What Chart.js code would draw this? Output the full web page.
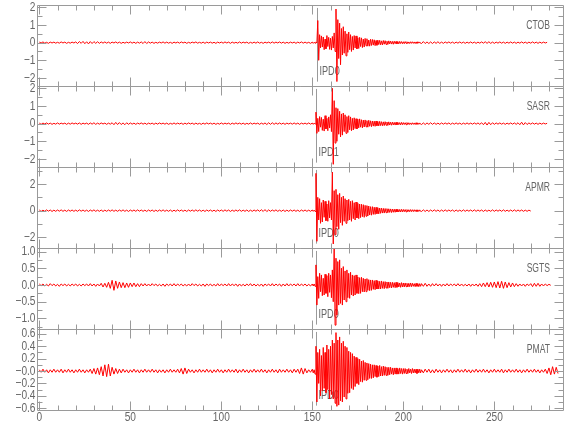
<!DOCTYPE html>
<html>
<head>
<meta charset="utf-8">
<script src="https://cdn.jsdelivr.net/npm/chart.js@4/dist/chart.umd.min.js"></script>
<style>
  html, body { margin: 0; padding: 0; background: #fff; }
  #wrap { position: relative; width: 580px; height: 440px; }
  #wrap canvas { position: absolute; left: 0; top: 0; }
</style>
</head>
<body>
<div id="wrap"></div>
<script>
// 관측소 / 위상 픽
const stations  = ['CTOB', 'SASR', 'APMR', 'SGTS', 'PMAT'];
const pickNames = ['IPD0', 'IPD1', 'IPD0', 'IPD0', 'IPD0'];
const pickTimes = [152.7, 151.8, 152.1, 152.1, 152.1];

// 샘플 시각: 0~149초 1초 간격, 150~209.5초 0.5초 간격, 210초부터 다시 1초 간격
const sampleTimes = [];
for (let t = 0; t < 150; t++) sampleTimes.push(t);
for (let t = 150; t < 210; t += 0.5) sampleTimes.push(t);
for (let t = 210; t <= 290; t++) sampleTimes.push(t);

// 파형 값 (sampleTimes 순서)
const ctob = [
  // 0-149
  0.03,-0.02,0.04,-0.03,0.02,-0.04,0.03,-0.02,0.03,-0.03,0.02,-0.03,0.04,-0.02,0.03,-0.04,0.02,-0.03,0.03,-0.02,
  0.04,-0.05,0.06,-0.04,0.07,-0.06,0.05,-0.07,0.06,-0.05,0.06,-0.04,0.05,-0.04,0.04,-0.03,0.04,-0.03,0.03,-0.04,
  0.03,-0.02,0.04,-0.03,0.03,-0.04,0.02,-0.03,0.03,-0.02,0.04,-0.03,0.03,-0.04,0.03,-0.03,0.04,-0.05,0.06,-0.05,
  0.04,-0.03,0.03,-0.04,0.02,-0.03,0.03,-0.02,0.04,-0.03,0.03,-0.03,0.02,-0.04,0.03,-0.02,0.03,-0.03,0.04,-0.02,
  0.03,-0.04,0.02,-0.03,0.03,-0.02,0.04,-0.03,0.02,-0.03,0.03,-0.04,0.03,-0.02,0.03,-0.03,0.02,-0.04,0.03,-0.02,
  0.03,-0.03,0.04,-0.02,0.03,-0.04,0.03,-0.03,0.02,-0.03,0.04,-0.03,0.03,-0.02,0.03,-0.04,0.02,-0.03,0.03,-0.03,
  0.04,-0.03,0.02,-0.04,0.03,-0.02,0.03,-0.03,0.04,-0.03,0.03,-0.02,0.04,-0.03,0.03,-0.04,0.02,-0.03,0.03,-0.02,
  0.03,-0.04,0.03,-0.02,0.04,-0.03,0.03,-0.03,0.02,-0.04,
  // 150-209.5
  0.03,-0.04,0.02,-0.03,0.04,-0.02,1.25,-1.0,0.45,-0.3,0.38,-0.25,0.32,-0.4,0.2,-0.35,0.4,-0.22,0.3,-0.38,
  0.25,-0.42,0.35,-0.3,0.55,-0.5,1.9,-2.2,1.3,-0.9,1.1,-1.25,0.8,-0.7,0.9,-0.6,0.65,-0.75,0.5,-0.55,
  0.6,-0.4,0.45,-0.5,0.35,-0.42,0.4,-0.3,0.38,-0.35,0.28,-0.33,0.3,-0.22,0.27,-0.28,0.2,-0.25,0.24,-0.18,
  0.22,-0.2,0.15,-0.2,0.19,-0.16,0.18,-0.14,0.16,-0.17,0.12,-0.15,0.14,-0.11,0.13,-0.12,0.1,-0.13,0.12,-0.09,
  0.11,-0.1,0.08,-0.1,0.1,-0.07,0.09,-0.08,0.07,-0.09,0.08,-0.06,0.07,-0.07,0.06,-0.07,0.07,-0.05,0.06,-0.06,
  0.05,-0.06,0.06,-0.04,0.05,-0.05,0.04,-0.05,0.05,-0.04,0.05,-0.04,0.04,-0.05,0.04,-0.04,0.05,-0.03,0.04,-0.04,
  // 210-279
  -0.05,0.06,-0.05,0.04,-0.05,0.04,-0.05,0.04,-0.04,0.05,
  -0.04,0.03,-0.04,0.04,-0.03,0.04,-0.03,0.03,-0.04,0.03,-0.03,0.04,-0.03,0.03,-0.04,0.03,-0.03,0.04,-0.03,0.03,
  -0.04,0.03,-0.03,0.04,-0.03,0.05,-0.04,0.05,-0.04,0.03,-0.04,0.03,-0.03,0.04,-0.03,0.03,-0.04,0.03,-0.03,0.04,
  -0.03,0.03,-0.04,0.03,-0.03,0.04,-0.03,0.03,-0.04,0.03,-0.03,0.04,-0.03,0.03,-0.04,0.03,-0.03,0.03,-0.02,0.02
];
const sasr = [
  // 0-149
  0.03,-0.04,0.03,-0.02,0.04,-0.03,0.03,-0.04,0.02,-0.03,0.04,-0.03,0.03,-0.02,0.03,-0.04,0.03,-0.03,0.04,-0.02,
  0.03,-0.03,0.04,-0.04,0.03,-0.02,0.03,-0.04,0.04,-0.03,0.05,-0.04,0.03,-0.03,0.04,-0.02,0.03,-0.04,0.03,-0.03,
  0.05,-0.06,0.07,-0.05,0.06,-0.05,0.04,-0.06,0.05,-0.04,0.04,-0.03,0.03,-0.04,0.03,-0.02,0.04,-0.03,0.03,-0.04,
  0.03,-0.02,0.03,-0.04,0.03,-0.03,0.04,-0.02,0.03,-0.03,0.03,-0.04,0.02,-0.03,0.04,-0.03,0.03,-0.02,0.03,-0.04,
  0.03,-0.03,0.04,-0.02,0.03,-0.04,0.03,-0.03,0.02,-0.04,0.03,-0.03,0.04,-0.02,0.03,-0.03,0.03,-0.04,0.02,-0.03,
  0.04,-0.03,0.03,-0.02,0.03,-0.04,0.03,-0.03,0.04,-0.02,0.03,-0.03,0.03,-0.04,0.02,-0.03,0.04,-0.03,0.03,-0.02,
  0.03,-0.04,0.03,-0.03,0.04,-0.05,0.05,-0.04,0.05,-0.04,0.04,-0.03,0.04,-0.03,0.03,-0.04,0.03,-0.02,0.03,-0.03,
  0.04,-0.03,0.03,-0.04,0.03,-0.02,0.03,-0.03,0.04,-0.03,
  // 150-209.5
  0.03,-0.04,0.03,-0.02,0.65,-0.55,0.3,-0.45,0.4,-0.2,0.35,-0.38,0.25,-0.42,0.45,-0.3,0.3,-0.4,0.38,-0.25,
  0.5,-0.45,2.0,-2.3,1.3,-1.1,0.9,-1.0,0.85,-0.6,0.7,-0.75,0.55,-0.65,0.6,-0.45,0.5,-0.55,0.4,-0.5,
  0.45,-0.35,0.38,-0.4,0.3,-0.36,0.33,-0.28,0.28,-0.3,0.25,-0.24,0.27,-0.2,0.22,-0.24,0.2,-0.19,0.21,-0.18,
  0.17,-0.2,0.19,-0.15,0.16,-0.17,0.15,-0.14,0.14,-0.15,0.15,-0.12,0.12,-0.13,0.13,-0.11,0.11,-0.12,0.1,-0.11,
  0.11,-0.09,0.09,-0.1,0.1,-0.08,0.08,-0.09,0.09,-0.07,0.07,-0.08,0.08,-0.07,0.07,-0.06,0.06,-0.07,0.07,-0.06,
  0.06,-0.05,0.05,-0.06,0.06,-0.05,0.05,-0.05,0.04,-0.05,0.05,-0.04,0.04,-0.05,0.05,-0.04,0.04,-0.04,0.04,-0.03,
  // 210-279
  -0.05,0.04,-0.05,0.04,-0.04,0.05,-0.04,0.04,-0.04,0.03,
  -0.04,0.04,-0.03,0.04,-0.03,0.04,-0.04,0.03,-0.03,0.04,-0.03,0.03,-0.04,0.03,-0.03,0.04,-0.03,0.03,-0.03,0.04,
  -0.03,0.04,-0.04,0.05,-0.06,0.07,-0.08,0.07,-0.06,0.05,-0.04,0.04,-0.03,0.04,-0.03,0.03,-0.04,0.03,-0.03,0.04,
  -0.03,0.04,-0.04,0.05,-0.06,0.08,-0.07,0.06,-0.05,0.04,-0.03,0.04,-0.03,0.03,-0.04,0.03,-0.03,0.03,-0.02,0.02
];
const apmr = [
  // 0-149
  0.05,-0.06,0.04,-0.05,0.06,-0.04,0.05,-0.06,0.04,-0.05,0.05,-0.04,0.06,-0.05,0.04,-0.06,0.05,-0.04,0.05,-0.05,
  0.04,-0.05,0.06,-0.04,0.05,-0.05,0.04,-0.06,0.05,-0.04,0.06,-0.05,0.04,-0.05,0.05,-0.06,0.04,-0.05,0.05,-0.04,
  0.06,-0.05,0.04,-0.05,0.05,-0.04,0.06,-0.05,0.04,-0.06,0.05,-0.04,0.05,-0.05,0.06,-0.04,0.05,-0.05,0.04,-0.06,
  0.05,-0.04,0.05,-0.06,0.04,-0.05,0.05,-0.04,0.06,-0.05,0.04,-0.05,0.05,-0.06,0.04,-0.05,0.06,-0.04,0.05,-0.05,
  0.04,-0.06,0.05,-0.04,0.05,-0.05,0.06,-0.04,0.05,-0.05,0.04,-0.06,0.05,-0.04,0.05,-0.05,0.04,-0.06,0.05,-0.04,
  0.05,-0.05,0.06,-0.04,0.05,-0.06,0.04,-0.05,0.05,-0.04,0.06,-0.05,0.04,-0.05,0.05,-0.06,0.04,-0.05,0.05,-0.04,
  0.06,-0.05,0.07,-0.06,0.08,-0.07,0.06,-0.05,0.05,-0.04,0.06,-0.05,0.04,-0.05,0.05,-0.06,0.04,-0.05,0.05,-0.04,
  0.05,-0.05,0.04,-0.06,0.05,-0.04,0.05,-0.05,0.04,-0.05,
  // 150-209.5
  0.05,-0.05,0.04,-0.06,2.8,-2.3,1.0,-0.7,0.9,-0.95,0.6,-0.85,0.8,-0.5,0.7,-0.75,0.5,-0.8,0.75,-0.55,
  0.6,-0.7,2.9,-2.5,1.5,-1.8,1.6,-1.2,1.2,-1.4,1.3,-0.9,1.0,-1.1,1.1,-0.8,0.9,-0.95,0.8,-0.75,
  0.85,-0.7,0.7,-0.8,0.75,-0.6,0.6,-0.7,0.65,-0.55,0.55,-0.6,0.5,-0.52,0.48,-0.45,0.45,-0.5,0.4,-0.42,
  0.38,-0.4,0.35,-0.33,0.3,-0.34,0.3,-0.28,0.26,-0.28,0.25,-0.23,0.22,-0.24,0.2,-0.2,0.19,-0.18,0.17,-0.18,
  0.16,-0.15,0.15,-0.15,0.14,-0.13,0.13,-0.14,0.12,-0.12,0.11,-0.12,0.11,-0.1,0.1,-0.1,0.09,-0.1,0.1,-0.09,
  0.09,-0.08,0.08,-0.09,0.08,-0.08,0.07,-0.08,0.08,-0.07,0.07,-0.07,0.07,-0.06,0.06,-0.07,0.06,-0.06,0.06,-0.05,
  // 210-270
  -0.06,0.06,-0.06,0.05,-0.06,0.05,-0.05,0.06,-0.05,0.05,
  -0.06,0.05,-0.05,0.06,-0.05,0.05,-0.04,0.05,-0.06,0.05,-0.05,0.04,-0.05,0.06,-0.05,0.05,-0.04,0.05,-0.05,0.06,
  -0.05,0.05,-0.04,0.05,-0.06,0.05,-0.05,0.04,-0.05,0.06,-0.05,0.05,-0.04,0.05,-0.05,0.06,-0.05,0.04,-0.05,0.05,
  -0.05,0.06,-0.05,0.05,-0.04,0.05,-0.05,0.04,-0.05,0.04,-0.03
];
const sgts = [
  // 0-149
  0.03,-0.02,0.03,-0.03,0.02,-0.03,0.04,-0.02,0.03,-0.03,0.02,-0.04,0.03,-0.02,0.03,-0.03,0.02,-0.03,0.03,-0.02,
  0.03,-0.03,0.02,-0.03,0.03,-0.02,0.03,-0.03,0.04,-0.03,0.03,-0.04,0.03,-0.03,0.05,-0.06,0.05,-0.07,0.08,-0.1,
  0.14,-0.16,0.12,-0.1,0.09,-0.08,0.07,-0.08,0.06,-0.07,0.06,-0.05,0.06,-0.05,0.04,-0.05,0.04,-0.03,0.04,-0.03,
  0.03,-0.03,0.04,-0.02,0.03,-0.03,0.02,-0.03,0.03,-0.04,0.03,-0.02,0.03,-0.03,0.04,-0.03,0.03,-0.02,0.03,-0.03,
  0.02,-0.03,0.03,-0.03,0.04,-0.02,0.03,-0.03,0.02,-0.03,0.03,-0.04,0.03,-0.02,0.03,-0.03,0.02,-0.03,0.04,-0.03,
  0.03,-0.02,0.03,-0.03,0.04,-0.03,0.03,-0.02,0.03,-0.04,0.03,-0.03,0.02,-0.03,0.03,-0.02,0.04,-0.03,0.03,-0.03,
  0.02,-0.03,0.03,-0.04,0.03,-0.02,0.03,-0.03,0.04,-0.03,0.03,-0.02,0.03,-0.04,0.03,-0.03,0.04,-0.03,0.03,-0.02,
  0.03,-0.03,0.04,-0.03,0.03,-0.02,0.03,-0.03,0.02,-0.03,
  // 150-209.5
  0.03,-0.03,0.03,-0.04,0.6,-0.6,0.25,-0.4,0.35,-0.2,0.3,-0.32,0.2,-0.3,0.32,-0.25,0.28,-0.35,0.35,-0.22,
  0.3,-0.38,0.45,-0.5,1.15,-1.2,0.8,-0.9,0.7,-0.6,0.75,-0.55,0.5,-0.6,0.55,-0.45,0.42,-0.5,0.45,-0.38,
  0.35,-0.4,0.38,-0.3,0.3,-0.33,0.28,-0.3,0.3,-0.25,0.24,-0.26,0.22,-0.25,0.23,-0.2,0.2,-0.21,0.18,-0.2,
  0.19,-0.16,0.16,-0.17,0.15,-0.16,0.15,-0.13,0.13,-0.14,0.14,-0.12,0.12,-0.12,0.11,-0.12,0.12,-0.1,0.1,-0.11,
  0.1,-0.09,0.09,-0.1,0.09,-0.08,0.08,-0.09,0.08,-0.07,0.07,-0.08,0.08,-0.07,0.07,-0.06,0.06,-0.07,0.07,-0.06,
  0.06,-0.06,0.06,-0.05,0.05,-0.06,0.05,-0.05,0.06,-0.05,0.05,-0.04,0.04,-0.05,0.05,-0.04,0.04,-0.05,0.04,-0.04,
  // 210-281
  0.04,-0.04,0.05,-0.04,0.03,-0.04,0.04,-0.03,0.04,-0.03,
  0.03,-0.04,0.03,-0.03,0.04,-0.03,0.03,-0.02,0.03,-0.03,0.04,-0.03,0.03,-0.03,0.02,-0.03,0.03,-0.04,0.03,-0.03,
  0.03,-0.04,0.04,-0.05,0.06,-0.05,0.07,-0.06,0.08,-0.07,0.09,-0.08,0.1,-0.09,0.11,-0.1,0.09,-0.08,0.07,-0.06,
  0.06,-0.05,0.04,-0.04,0.03,-0.03,0.03,-0.04,0.03,-0.02,0.04,-0.05,0.05,-0.04,0.05,-0.04,0.03,-0.03,0.03,-0.02,
  0.02,-0.01
];
const pmat = [
  // 0-149
  0.02,-0.02,0.03,-0.02,0.02,-0.03,0.02,-0.02,0.03,-0.02,0.02,-0.02,0.03,-0.03,0.02,-0.02,0.03,-0.02,0.02,-0.03,
  0.02,-0.02,0.03,-0.02,0.02,-0.03,0.02,-0.02,0.03,-0.04,0.04,-0.05,0.05,-0.06,0.07,-0.08,0.1,-0.09,0.11,-0.08,
  0.06,-0.05,0.04,-0.04,0.03,-0.03,0.03,-0.02,0.02,-0.03,0.02,-0.02,0.03,-0.02,0.02,-0.03,0.02,-0.02,0.03,-0.02,
  0.02,-0.02,0.03,-0.02,0.02,-0.03,0.02,-0.02,0.02,-0.03,0.02,-0.02,0.03,-0.02,0.02,-0.02,0.03,-0.03,0.04,-0.05,
  0.05,-0.04,0.03,-0.02,0.02,-0.03,0.02,-0.02,0.03,-0.02,0.02,-0.02,0.03,-0.02,0.02,-0.03,0.02,-0.02,0.03,-0.02,
  0.02,-0.03,0.02,-0.02,0.03,-0.02,0.02,-0.02,0.03,-0.03,0.02,-0.02,0.03,-0.02,0.02,-0.03,0.02,-0.02,0.03,-0.02,
  0.02,-0.02,0.03,-0.02,0.02,-0.03,0.02,-0.02,0.03,-0.02,0.02,-0.03,0.03,-0.02,0.02,-0.02,0.03,-0.02,0.02,-0.03,
  0.03,-0.02,0.03,-0.04,0.05,-0.05,0.04,-0.03,0.02,-0.02,
  // 150-209.5
  0.03,-0.03,0.02,-0.05,0.4,-0.5,0.3,-0.2,0.35,-0.4,0.25,-0.32,0.38,-0.28,0.3,-0.35,0.42,-0.3,0.35,-0.45,
  0.4,-0.38,0.5,-0.45,0.45,-0.52,0.62,-0.57,0.5,-0.55,0.55,-0.48,0.45,-0.5,0.48,-0.42,0.4,-0.45,0.38,-0.36,
  0.32,-0.35,0.3,-0.28,0.28,-0.3,0.24,-0.25,0.22,-0.2,0.2,-0.22,0.19,-0.17,0.16,-0.18,0.17,-0.15,0.14,-0.15,
  0.13,-0.14,0.12,-0.12,0.11,-0.12,0.1,-0.11,0.1,-0.09,0.09,-0.1,0.08,-0.09,0.09,-0.08,0.07,-0.08,0.08,-0.07,
  0.07,-0.07,0.06,-0.07,0.06,-0.06,0.06,-0.05,0.05,-0.06,0.05,-0.05,0.05,-0.05,0.04,-0.05,0.05,-0.04,0.04,-0.05,
  0.04,-0.04,0.04,-0.04,0.03,-0.04,0.04,-0.03,0.03,-0.04,0.04,-0.03,0.03,-0.03,0.03,-0.04,0.03,-0.03,0.03,-0.03,
  // 210-285
  0.02,-0.03,0.03,-0.02,0.03,-0.03,0.02,-0.03,0.03,-0.02,
  0.02,-0.03,0.02,-0.02,0.03,-0.02,0.02,-0.03,0.02,-0.02,0.03,-0.02,0.02,-0.02,0.03,-0.02,0.02,-0.03,0.02,-0.02,
  0.03,-0.02,0.02,-0.02,0.03,-0.02,0.02,-0.03,0.02,-0.02,0.03,-0.02,0.02,-0.02,0.03,-0.03,0.02,-0.02,0.03,-0.02,
  0.02,-0.02,0.03,-0.02,0.02,-0.03,0.02,-0.02,0.03,-0.02,0.02,-0.02,0.03,-0.02,0.02,-0.03,0.02,-0.02,0.03,-0.04,
  0.05,-0.06,0.07,-0.05,0.06,-0.04
];
const series = [ctob, sasr, apmr, sgts, pmat];

// 축 범위 / 눈금
const yRanges = [[-2.48, 2.1], [-2.48, 2.1], [-2.84, 3.24], [-1.33, 1.09], [-0.637, 0.67]];
const yMajor = [
  [2, 1, 0, -1, -2],
  [2, 1, 0, -1, -2],
  [2, 0, -2],
  [1, 0.5, 0, -0.5, -1],
  [0.6, 0.4, 0.2, 0, -0.2, -0.4, -0.6]
];
const yLabels = [
  ['2', '1', '0', '−1', '−2'],
  ['2', '1', '0', '−1', '−2'],
  ['2', '0', '−2'],
  ['1.0', '0.5', '0.0', '−0.5', '−1.0'],
  ['0.6', '0.4', '0.2', '−0.0', '−0.2', '−0.4', '−0.6']
];
const yMinor = [
  [1.5, 0.5, -0.5, -1.5],
  [1.5, 0.5, -0.5, -1.5],
  [3, 1, -1],
  [0.75, 0.25, -0.25, -0.75, -1.25],
  [0.5, 0.3, 0.1, -0.1, -0.3, -0.5]
];
const xMajor  = [0, 50, 100, 150, 200, 250];
const xLabels = ['0', '50', '100', '150', '200', '250'];
const xMinor  = [10, 20, 30, 40, 60, 70, 80, 90, 110, 120, 130, 140, 160, 170, 180, 190, 210, 220, 230, 240, 260, 270, 280];

// 배치
const PANEL_TOP = [5.5, 86.5, 167.5, 248.5, 329.5];
const PANEL_H = 81;
const LINE = '#9a9a9a', TXT = '#666', FONT = '13px "Liberation Sans", Arial, sans-serif';

// 가로로 좁힌 글자
function squeeze(ctx, s, x, y, align, sx) {
  ctx.save();
  ctx.translate(x, y);
  ctx.scale(sx, 1);
  ctx.textAlign = align;
  ctx.fillText(s, 0, 0);
  ctx.restore();
}

function seg(ctx, x1, y1, x2, y2) {
  ctx.moveTo(x1, y1); ctx.lineTo(x2, y2);
}

function panelPlugin(i) {
  return {
    id: 'panel' + i,
    beforeDatasetsDraw(chart) {
      const { ctx, chartArea: a, scales: { x } } = chart;
      const px = Math.round(x.getPixelForValue(pickTimes[i])) + 0.5;
      ctx.save();
      ctx.strokeStyle = LINE;
      ctx.lineWidth = 1;
      ctx.beginPath();
      seg(ctx, px, a.top + a.height * 0.03, px, a.top + a.height * 0.94);
      ctx.stroke();
      ctx.fillStyle = TXT;
      ctx.font = FONT;
      ctx.textBaseline = 'middle';
      squeeze(ctx, pickNames[i], px + 2, a.top + a.height * 0.81, 'left', 0.7);
      ctx.restore();
    },
    afterDatasetsDraw(chart) {
      const { ctx, chartArea: a, scales: { x, y } } = chart;
      ctx.save();
      ctx.strokeStyle = LINE;
      ctx.lineWidth = 1;
      ctx.beginPath();
      ctx.rect(a.left, a.top, a.right - a.left, a.bottom - a.top);
      // x 눈금 (위/아래)
      const xt = (v, len) => {
        const p = Math.round(x.getPixelForValue(v)) + 0.5;
        seg(ctx, p, a.top, p, a.top + len);
        seg(ctx, p, a.bottom, p, a.bottom - len);
      };
      xMajor.forEach(v => xt(v, 9));
      xMinor.forEach(v => xt(v, 5));
      // y 눈금 (좌/우)
      const yt = (v, len) => {
        const p = Math.round(y.getPixelForValue(v)) + 0.5;
        seg(ctx, a.left, p, a.left + len, p);
        seg(ctx, a.right, p, a.right - len, p);
      };
      yMajor[i].forEach(v => yt(v, 9));
      yMinor[i].forEach(v => yt(v, 5));
      ctx.stroke();

      ctx.fillStyle = TXT;
      ctx.font = FONT;
      ctx.textBaseline = 'middle';
      yMajor[i].forEach((v, k) => squeeze(ctx, yLabels[i][k], a.left - 2, y.getPixelForValue(v), 'right', 0.78));
      squeeze(ctx, stations[i], 550, a.top + a.height * 0.24, 'right', 0.66);
      if (i === stations.length - 1) {
        xMajor.forEach((v, k) => squeeze(ctx, xLabels[k], x.getPixelForValue(v), a.bottom + 6.5, 'center', 0.78));
      }
      ctx.restore();
    }
  };
}

const wrap = document.getElementById('wrap');
series.forEach((vals, i) => {
  const cv = document.createElement('canvas');
  cv.width = 580;
  cv.height = 440;
  wrap.appendChild(cv);
  new Chart(cv, {
    type: 'line',
    data: {
      datasets: [{
        data: vals.map((v, k) => ({ x: sampleTimes[k], y: v })),
        borderColor: '#ff0000',
        borderWidth: 1,
        pointRadius: 0,
        tension: 0,
        fill: false,
      }]
    },
    options: {
      responsive: false,
      animation: false,
      devicePixelRatio: 1,
      events: [],
      layout: { padding: { left: 37.5, right: 16.5, top: PANEL_TOP[i], bottom: 440 - PANEL_TOP[i] - PANEL_H } },
      plugins: { legend: { display: false }, tooltip: { enabled: false } },
      scales: {
        x: { type: 'linear', min: -1, max: 288, display: false },
        y: { min: yRanges[i][0], max: yRanges[i][1], display: false }
      }
    },
    plugins: [panelPlugin(i)]
  });
});
</script>
</body>
</html>
